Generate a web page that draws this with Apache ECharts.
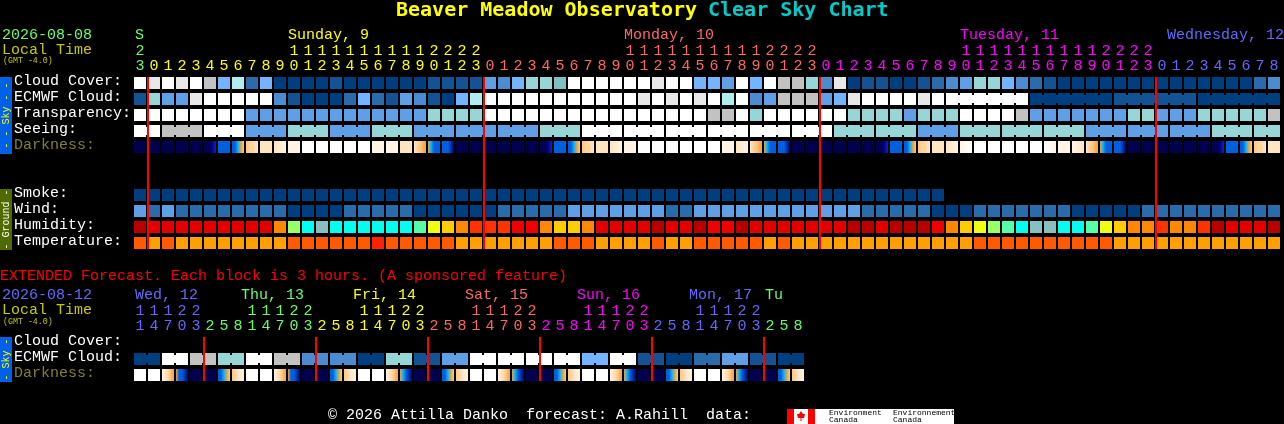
<!DOCTYPE html>
<html><head><meta charset="utf-8">
<style>html,body{margin:0;padding:0;background:#000}#c{width:1284px;height:424px}</style>
<script src="https://cdn.jsdelivr.net/npm/echarts@6/dist/echarts.min.js"></script>
</head><body><div id="c"></div>
<script>
const rowNames = ['Cloud Cover:','ECMWF Cloud:','Transparency:','Seeing:','Darkness:','','','Smoke:','Wind:','Humidity:','Temperature:'];
const extRowNames = ['Cloud Cover:','ECMWF Cloud:','Darkness:'];

const hours = [23,0,1,2,3,4,5,6,7,8,9,10,11,12,13,14,15,16,17,18,19,20,21,22,23,0,1,2,3,4,5,6,7,8,9,10,11,12,13,14,15,16,17,18,19,20,21,22,23,0,1,2,3,4,5,6,7,8,9,10,11,12,13,14,15,16,17,18,19,20,21,22,23,0,1,2,3,4,5,6,7,8];
const extHours = [11,14,17,20,23,2,5,8,11,14,17,20,23,2,5,8,11,14,17,20,23,2,5,8,11,14,17,20,23,2,5,8,11,14,17,20,23,2,5,8,11,14,17,20,23,2,5,8];
const dayOfCol = [0,1,1,1,1,1,1,1,1,1,1,1,1,1,1,1,1,1,1,1,1,1,1,1,1,2,2,2,2,2,2,2,2,2,2,2,2,2,2,2,2,2,2,2,2,2,2,2,2,3,3,3,3,3,3,3,3,3,3,3,3,3,3,3,3,3,3,3,3,3,3,3,3,4,4,4,4,4,4,4,4,4];
const extDayOfCol = [4,4,4,4,4,0,0,0,0,0,0,0,0,1,1,1,1,1,1,1,1,2,2,2,2,2,2,2,2,3,3,3,3,3,3,3,3,4,4,4,4,4,4,4,4,0,0,0];
const dayColors = ['#66FF66','#FFFF00','#FF6666','#FF00FF','#6666FF'];

// sky level: 0 clear ... 10 overcast, 11 muted teal
const skyPalette = ['#003F7F','#135393','#2A6BAC','#4B8CD0','#5F9FE5','#72B4FF','#96D6D6','#AEEEEE','#C2C2C2','#E8E8E8','#FFFFFF','#7FBFBF'];
const cloud = [10,9,10,9,10,8,5,7,2,5, 0,0,0,0,1,0,0,0,0,0, 0,1,1,1,1,4,3,5,6,6, 11,10,10,10,10,10,10,9,10,10, 5,5,4,10,5,10,8,8,6,3, 9,0,1,1,0,0,1,2,3,4, 6,6,5,3,2,1,0,0,0,0, 0,0,0,0,0,0,0,0,0,0, 2,3];
const ecmwf = [1,6,4,4,9,10,10,10,10,10, 3,1,0,0,0,2,5,2,1,4, 3,1,0,5,7,10,10,10,10,10, 10,10,10,10,10,10,9,10,9,10, 9,10,7,10,3,4,8,8,8,4, 5,9,10,10,10,10,9,10,10,10, 10,10,10,10,0,0,0,0,0,0, 1,1,1,1,1,1,0,0,0,0, 0,0];
const transparency = [10,10,10,10,10,10,10,10,4,4, 4,4,4,4,4,4,4,4,4,4, 4,6,6,6,6,10,10,10,10,10, 10,10,10,10,10,10,10,10,10,10, 10,8,8,10,6,10,10,10,10,10, 10,6,6,6,6,4,6,6,6,10, 10,10,10,8,4,4,4,4,4,4, 4,6,6,4,4,4,6,6,6,6, 6,8];
const seeing = [10,10,8,8,8,10,10,10,4,4, 4,6,6,6,4,4,4,6,6,6, 4,4,4,4,4,4,4,4,4,6, 6,6,10,10,10,10,10,10,10,10, 10,10,10,10,10,10,10,10,10,10, 6,6,6,6,6,6,4,4,4,6, 6,6,6,6,6,6,6,6,4,4, 4,4,4,4,4,4,4,6,6,6, 6,6];

// darkness: each string is one cell, its characters are left-to-right steps in the ramp
const darkRamp = ['#00004F','#000080','#0030B0','#0060E0','#00B8FF','#F0A040','#FFC880','#FFE4C0','#FFF4E6','#FFFFFF'];
const darkness = ['0','0','0','0','0','0012','3','33456','67','77', '78','8','9','9','9','9','9','8','8','7', '765','54333','33321','0','0','0','0','0','0','0012', '3','33456','67','77','78','88','9','9','9','9', '9','9','8','78','765','54333','33321','0','0','0', '0','0','0','0012','3','33456','67','77','78','89', '9','9','9','9','9','98','8','87','765','54333', '33321','0','0','0','0','0','0','0012','3','33456', '67','77'];

const smoke = [0,0,0,0,0,0,0,0,0,0, 0,0,0,0,0,0,0,0,0,0, 0,0,0,0,0,0,0,0,0,0, 0,0,0,0,0,0,0,0,0,0, 0,0,0,0,0,0,0,0,0,0, 0,0,0,0,0,0,0,0];
const wind = [4,2,4,2,2,2,2,2,2,2, 2,0,0,0,0,2,2,2,2,2, 0,0,0,0,0,0,2,2,2,2, 2,4,4,4,4,4,4,4,2,2, 4,4,4,4,4,4,4,4,4,4, 4,4,2,2,2,2,2,0,0,0, 2,2,2,2,2,2,2,0,0,0, 0,0,2,2,2,2,2,2,2,2, 2,2];
const humidityPalette = ['#B80000','#E20000','#F00000','#FF3300','#FF8800','#FFCC00','#EEFF11','#99FF66','#55FFAA','#00FFEE','#88C0C0'];
const humidity = [0,1,1,1,1,1,1,1,1,1, 4,7,9,10,9,9,9,9,9,9, 8,6,5,4,3,3,3,2,2,4, 5,5,4,1,1,1,1,0,1,1, 0,2,2,0,1,1,1,1,1,1, 1,0,0,1,0,0,0,2,4,5, 6,7,8,9,10,10,9,9,8,6, 5,4,4,3,4,4,3,0,1,1, 1,0];
const tempPalette = ['#FF2200','#FF5A00','#FFA000'];
const temperature = [1,2,1,2,2,2,2,2,2,2, 2,1,1,1,1,1,1,0,1,1, 1,1,1,2,2,2,2,2,2,2, 1,1,1,2,2,2,2,1,2,2, 1,1,1,1,1,2,1,2,2,2, 2,2,2,2,2,2,2,2,2,2, 1,1,1,1,1,1,1,1,1,1, 2,2,2,2,2,2,2,2,2,2, 2,2];

const extEcmwf = [0,0,10,10,8,8,6,6,10,10,8,8,3,3,3,3,0,0,6,6,1,1,4,4,10,10,10,10,10,10,10,10,5,5,10,10,1,1,0,0,2,2,4,4,1,1,0,0];
const extDarkness = ['9','9','8765','53321','0','0','33456','678','9','9','8765','53321','0','0','33456','678','9','9','8765','54321','0','0','33456','678','9','9','8765','54321','0','0','33456','678','9','9','8765','54321','0','0','33456','678','9','9','8765','54321','0','0','33456','678'];

const midnightCols = [1,25,49,73];
const extMidnightCols = [5,13,21,29,37,45];

const MONO = '"Liberation Mono",monospace';
const BOLD = '"DejaVu Sans Mono",monospace';
const CELL = 12;

function cellSeries(name, values, palette, gridIdx, rowIdx, joinKey) {
  const ax = gridIdx === 0 ? {xAxisIndex: 0, yAxisIndex: 0} : {xAxisIndex: 2, yAxisIndex: 1};
  return Object.assign({
    name, type: 'custom', silent: true, animation: false, z: 2,
    data: values.map((v, i) => [i, rowIdx, v]),
    renderItem(params, api) {
      const i = api.value(0), v = values[i];
      const p = api.coord([i, rowIdx]);
      const pitch = api.size([1, 0])[0];
      const x = Math.round(p[0] - CELL / 2), y = Math.round(p[1] - CELL / 2);
      let fill;
      if (typeof v === 'string') {
        const s = v.split('');
        fill = s.length === 1 ? darkRamp[+s[0]] : {type: 'linear', x: 0, y: 0, x2: 1, y2: 0, global: false,
          colorStops: s.map((c, k) => ({offset: k / (s.length - 1), color: darkRamp[+c]}))};
      } else fill = palette[v];
      const children = [{type: 'rect', shape: {x, y, width: CELL, height: CELL}, style: {fill}}];
      if (joinKey && i + 1 < values.length && joinKey(i) !== null && joinKey(i) === joinKey(i + 1)) {
        children.push({type: 'rect', shape: {x: x + CELL, y: y + 2, width: pitch - CELL, height: CELL - 4}, style: {fill}});
      }
      return {type: 'group', children};
    }
  }, ax);
}
function redSeries(cols, gridIdx, rowFrom, rowTo) {
  const ax = gridIdx === 0 ? {xAxisIndex: 0, yAxisIndex: 0} : {xAxisIndex: 2, yAxisIndex: 1};
  return Object.assign({
    name: 'midnight', type: 'custom', silent: true, animation: false, z: 5,
    data: cols.map(c => [c, rowFrom]),
    renderItem(params, api) {
      const c = api.value(0);
      const a = api.coord([c, rowFrom]), b = api.coord([c, rowTo]);
      const pitch = api.size([1, 0])[0];
      return {type: 'rect', shape: {x: Math.round(a[0] - pitch / 2), y: a[1] - CELL / 2, width: 2, height: b[1] - a[1] + CELL}, style: {fill: '#FF0000'}, z2: 10};
    }
  }, ax);
}
function hourAxes(list, days, gridIdx) {
  const base = {type: 'category', gridIndex: gridIdx, position: 'top', axisLine: {show: false}, axisTick: {show: false}, splitLine: {show: false}};
  const color = (v, i) => dayColors[days[i]];
  const lab = m => ({interval: 0, hideOverlap: false, margin: m, fontFamily: MONO, fontSize: 15, color});
  return [
    Object.assign({}, base, {data: list.map(String).map(s => s[s.length - 1]), axisLabel: lab(1)}),
    Object.assign({}, base, {data: list.map(h => h >= 10 ? String(h)[0] : ''), offset: 15, axisLabel: lab(1)})
  ];
}
function yAxisOf(names, gridIdx) {
  return {type: 'category', gridIndex: gridIdx, inverse: true, data: names,
    axisLine: {show: false}, axisTick: {show: false}, splitLine: {show: false},
    axisLabel: {interval: 0, hideOverlap: false, align: 'left', margin: 119, fontFamily: MONO, fontSize: 15,
      verticalAlign: 'bottom', lineHeight: 4, color: v => v === 'Darkness:' ? '#808030' : '#FFFFFF'}};
}
function txt(text, x, y, fill, size, extra) {
  return Object.assign({type: 'text', x, y, silent: true, z: 10,
    style: {text, fill, fontFamily: MONO, fontSize: size || 15, textVerticalAlign: 'middle'}}, extra || {});
}
function rect(x, y, w, h, fill) { return {type: 'rect', silent: true, z: 9, shape: {x, y, width: w, height: h}, style: {fill}}; }
function sideBar(y, h, fill, color, label) {
  return [rect(0, y, 12, h, fill),
    {type: 'text', silent: true, z: 10, x: 6, y: y + h / 2, rotation: Math.PI / 2,
     style: {text: label, fill: color, fontFamily: MONO, fontSize: 10, textAlign: 'center', textVerticalAlign: 'middle'}}];
}
const dayHead = [['S',135,0],['Sunday, 9',288,1],['Monday, 10',624,2],['Tuesday, 11',960,3],['Wednesday, 12',1167,4]];
const extHead = [['Wed, 12',135,4],['Thu, 13',241,0],['Fri, 14',353,1],['Sat, 15',465,2],['Sun, 16',577,3],['Mon, 17',689,4],['Tu',765,0]];

const graphics = [
  {type:'text',silent:true,x:396,y:11,style:{text:'Beaver Meadow Observatory',fill:'#FFFF00',fontFamily:BOLD,fontWeight:'bold',fontSize:20,textVerticalAlign:'middle'}},
  {type:'text',silent:true,x:708,y:11,style:{text:'Clear Sky Chart',fill:'#00CCCC',fontFamily:BOLD,fontWeight:'bold',fontSize:20,textVerticalAlign:'middle'}},
  txt('2026-08-08',2,35,'#66FF66'), txt('Local Time',2,50,'#C8C800'), txt('(GMT -4.0)',3,61,'#C8C800',8.3),
  txt('EXTENDED Forecast. Each block is 3 hours. (A sponsored feature)',0,276,'#FF0000'),
  txt('2026-08-12',2,295,'#6666FF'), txt('Local Time',2,310,'#C8C800'), txt('(GMT -4.0)',3,322,'#C8C800',8.3),
  txt('\u00A9 2026 Attilla Danko  forecast: A.Rahill  data:',328,415,'#FFFFFF'),
  ...sideBar(77,77,'#0060E6','#FFFF00','- - Sky - -'),
  ...sideBar(189,61,'#4F6B00','#FFFFFF','- Ground -'),
  ...sideBar(337,45,'#0060E6','#FFFF00','- Sky -'),
  rect(787,409,167,15,'#FFFFFF'), rect(787,409,7,15,'#FF0000'), rect(808,409,7,15,'#FF0000'),
  {type:'polygon',silent:true,z:10,shape:{points:[[801,411],[803,414],[805,414],[804,418],[801.5,418],[801.5,421],[800.5,421],[800.5,418],[798,418],[797,414],[799,414]]},style:{fill:'#FF0000'}},
  txt('Environment',829,413,'#000000',8), txt('Canada',829,420,'#000000',8),
  txt('Environnement',893,413,'#000000',8), txt('Canada',893,420,'#000000',8)
];
dayHead.forEach(d => graphics.push(txt(d[0], d[1], 35, dayColors[d[2]])));
extHead.forEach(d => graphics.push(txt(d[0], d[1], 295, dayColors[d[2]])));

const chart = echarts.init(document.getElementById('c'), null, {renderer: 'canvas'});
chart.setOption({
  backgroundColor: '#000000', animation: false,
  grid: [{left: 133, top: 75, width: 1148, height: 176}, {left: 133, top: 335, width: 672, height: 48}],
  xAxis: [...hourAxes(hours, dayOfCol, 0), ...hourAxes(extHours, extDayOfCol, 1)],
  yAxis: [yAxisOf(rowNames, 0), yAxisOf(extRowNames, 1)],
  graphic: graphics,
  series: [
    cellSeries('Cloud Cover', cloud, skyPalette, 0, 0),
    cellSeries('ECMWF Cloud', ecmwf, skyPalette, 0, 1, i => i >= 58 ? Math.floor((i - 58) / 6) : null),
    cellSeries('Transparency', transparency, skyPalette, 0, 2),
    cellSeries('Seeing', seeing, skyPalette, 0, 3, i => Math.floor((i + 1) / 3)),
    cellSeries('Darkness', darkness, null, 0, 4),
    cellSeries('Smoke', smoke, skyPalette, 0, 7),
    cellSeries('Wind', wind, skyPalette, 0, 8),
    cellSeries('Humidity', humidity, humidityPalette, 0, 9),
    cellSeries('Temperature', temperature, tempPalette, 0, 10),
    cellSeries('Extended ECMWF', extEcmwf, skyPalette, 1, 1, i => Math.floor(i / 2)),
    cellSeries('Extended Darkness', extDarkness, null, 1, 2),
    redSeries(midnightCols, 0, 0, 10),
    redSeries(extMidnightCols, 1, 0, 2)
  ]
});
</script></body></html>
